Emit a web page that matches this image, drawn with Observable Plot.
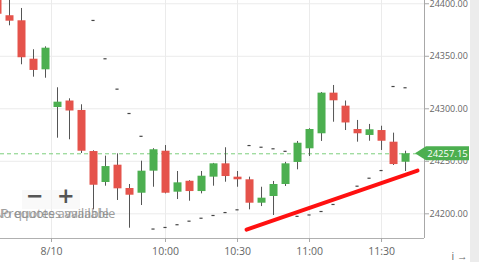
<!DOCTYPE html>
<html><head><meta charset="utf-8">
<script src="https://cdn.jsdelivr.net/npm/d3@7"></script>
<script src="https://cdn.jsdelivr.net/npm/@observablehq/plot@0.6"></script>
<style>
body{margin:0;background:#fff;font-family:"Open Sans",sans-serif;}
#wrap{position:relative;width:479px;height:262px;overflow:hidden;background:#fff}
#chart{position:absolute;left:0;top:0}
#strip{position:absolute;left:470px;top:0;width:9px;height:262px;background:#ececec}
#zoombox{position:absolute;left:22px;top:190px;width:58px;height:19px;background:rgba(245,245,245,0.6)}
.btn{position:absolute;top:-6px;font:bold 21px "DejaVu Sans",sans-serif;color:#555}
.pq{position:absolute;top:205px;font:12.5px "Open Sans",sans-serif;color:#8c8c8c;white-space:nowrap;opacity:0.85}
</style></head><body>
<div id="wrap"><div id="chart"></div><div id="strip"></div>
<div id="zoombox"><span class="btn" style="left:4px">−</span><span class="btn" style="left:35px">+</span></div>
<div class="pq" style="left:-6px">No quotes available</div>
<div class="pq" style="left:1px">Prequotes available</div>
</div>
<script>
const idx   = [-1,0,1,2,3,4,5,6,7,8,9,10,11,12,13,14,15,16,17,18,19,20,21,22,23,24,25,26,27,28,29,30,31,32,33];
const open  = [24410,24388.6,24383.8,24347.2,24337.1,24301.2,24307.4,24298.4,24259.3,24229.8,24246.3,24224.1,24219.6,24240.6,24259.6,24220.6,24231.0,24221.2,24234.9,24247.6,24234.9,24232.4,24210.1,24216.5,24227.9,24248.9,24261.9,24276.2,24314.9,24302.5,24280.3,24274.6,24279.3,24268.2,24249.1];
const high  = [24415,24405,24395.5,24356.2,24359.0,24320.0,24309.5,24303.8,24260.0,24254.9,24257.1,24227.9,24250.1,24262.0,24265.0,24240.3,24231.5,24240.3,24248.0,24262.9,24240.3,24234.9,24225.3,24230.8,24249.0,24268.9,24281.0,24315.5,24322.2,24307.4,24288.9,24285.1,24283.4,24276.8,24259.6];
const low   = [24388,24379,24341.9,24330.1,24329.1,24272.0,24270.5,24257.4,24203.8,24226.3,24212.7,24186.3,24207.9,24225.3,24219.0,24213.6,24212.0,24219.0,24226.3,24230.1,24225.3,24203.8,24206.9,24198.4,24226.0,24241.9,24254.6,24268.9,24287.2,24279.3,24268.2,24269.1,24260.3,24246.0,24240.3];
const close = [24390,24383.4,24348.6,24336.5,24357.7,24306.3,24297.9,24259.6,24227.2,24245.0,24223.8,24217.7,24240.6,24261.0,24219.6,24229.5,24221.2,24235.8,24247.6,24235.5,24232.4,24210.1,24214.9,24227.9,24247.6,24267.2,24280.3,24314.9,24307.6,24286.5,24276.2,24280.0,24269.1,24246.9,24257.15];

const sarIdx = [7,8,9,10,11,12,13,14,15,16,17,18,19,20,21,22,23,24,25,26,27,28,29,30,31,32,33];
const sarVal = [24384.1,24347.6,24318.7,24295.5,24273.8,24185.5,24187.0,24189.6,24193.0,24195.8,24198.4,24201.2,24203.8,24265.0,24263.4,24261.9,24259.5,24197.6,24198.9,24202.2,24208.9,24217.5,24226.3,24233.9,24241.2,24321.2,24320.0];

const trendIdx = [19.75, 34.0];
const trendVal = [24185.0, 24241.2];

const lastPrice = 24257.15;
const yTicks = [24200, 24250, 24300, 24350, 24400];
const xTickPos = [3.5, 13, 19, 25, 31];
const xTickLabels = ["8/10", "10:00", "10:30", "11:00", "11:30"];
const xDomain = [-0.75, 34.58];
const yDomain = [24176.5, 24403.1];

const candles = idx.map((i, k) => ({i, open: open[k], high: high[k], low: low[k], close: close[k]}));
const sar = sarIdx.map((i, k) => ({i, v: sarVal[k]}));
const trend = trendIdx.map((i, k) => ({i, p: trendVal[k]}));
const xLabel = new Map(xTickPos.map((p, k) => [p, xTickLabels[k]]));

const up = candles.filter(d => d.close >= d.open);
const down = candles.filter(d => d.close < d.open);

const chart = Plot.plot({
  width: 470, height: 262,
  marginLeft: 0, marginRight: 46, marginTop: 0, marginBottom: 24,
  x: {domain: xDomain, axis: null},
  y: {domain: yDomain, axis: null},
  style: {fontFamily: "'Open Sans', sans-serif", background: "transparent"},
  marks: [
    Plot.ruleY(yTicks, {stroke: "#ebebeb"}),
    Plot.ruleX(xTickPos, {stroke: "#ebebeb"}),
    Plot.ruleX([xDomain[1]], {stroke: "#a8a8a8"}),
    Plot.ruleY([yDomain[0]], {stroke: "#b0b0b0"}),
    Plot.ruleY([lastPrice], {stroke: "#7ccf7c", strokeDasharray: "4,3"}),
    Plot.ruleX(candles, {x: "i", y1: "low", y2: "high", stroke: "#555", strokeWidth: 1}),
    Plot.ruleX(up, {x: "i", y1: "open", y2: "close", stroke: "#4caf50", strokeWidth: 8}),
    Plot.ruleX(down, {x: "i", y1: "open", y2: "close", stroke: "#e5534b", strokeWidth: 8}),
    Plot.ruleY(sar, {y: "v", x1: d => d.i - 0.13, x2: d => d.i + 0.13, stroke: "#444", strokeWidth: 1.2}),
    Plot.line(trend, {x: "i", y: "p", stroke: "#ff1010", strokeWidth: 4, strokeLinecap: "round"}),
    Plot.axisY(yTicks, {anchor: "right", tickFormat: d3.format(".2f"), tickSize: 4, tickPadding: 1, fontSize: 9, fill: "#666", stroke: "#a8a8a8", textAnchor: "start"}),
    Plot.axisX(xTickPos, {anchor: "bottom", tickFormat: d => xLabel.get(d), tickSize: 4, tickPadding: 5, fontSize: 10.5, fill: "#666", stroke: "#a8a8a8"})
  ]
});
document.getElementById("chart").appendChild(chart);

// last price tag, positioned with Plot's own scales
const ys = chart.scale("y"), xs = chart.scale("x");
const py = ys.apply(lastPrice);
const px = xs.apply(xDomain[1]);
const svg = d3.select(chart);
svg.append("path")
  .attr("d", `M${px - 9},${py} L${px + 2},${py - 7} L${px + 45},${py - 7} L${px + 45},${py + 7} L${px + 2},${py + 7} Z`)
  .attr("fill", "#4caf50");
svg.append("text")
  .attr("x", px + 23.5).attr("y", py).attr("dy", "0.35em")
  .attr("text-anchor", "middle").attr("fill", "#fff")
  .attr("font-size", 9.5).attr("font-family", "'Open Sans', sans-serif")
  .text(lastPrice.toFixed(2));
</script>
</body></html>
